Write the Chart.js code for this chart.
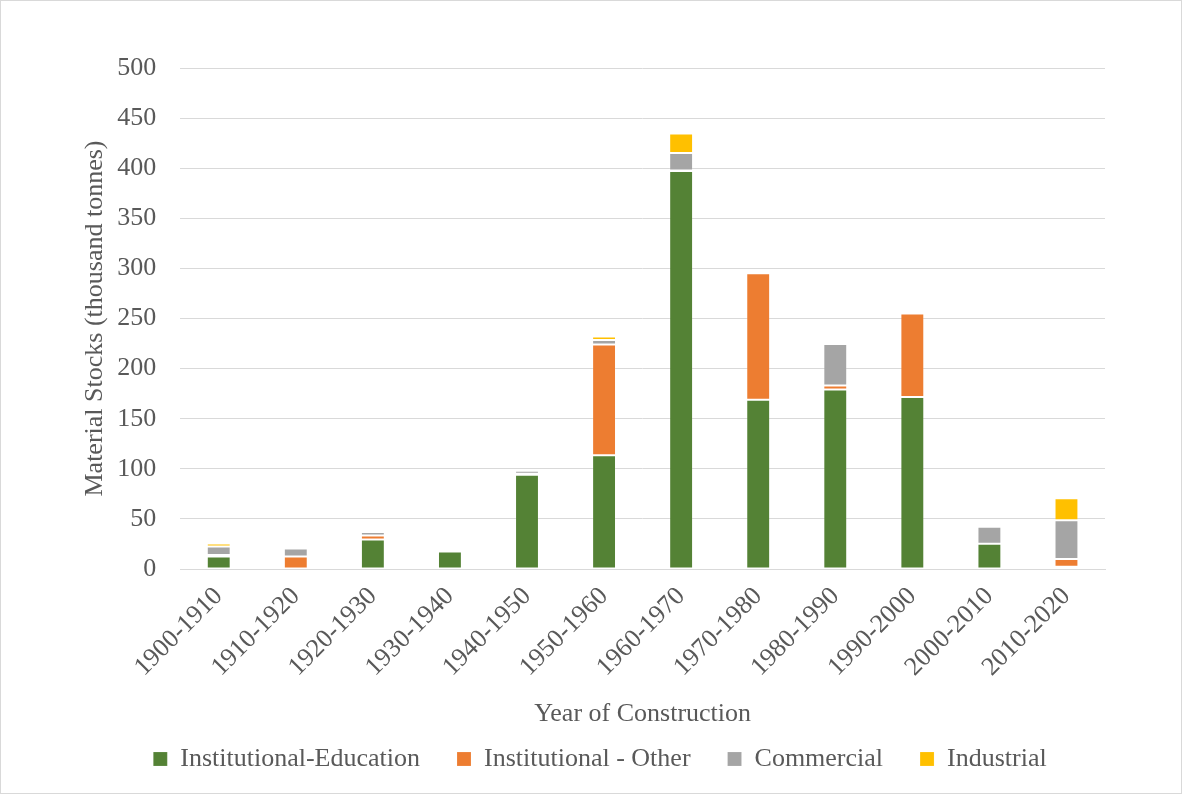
<!DOCTYPE html>
<html>
<head>
<meta charset="utf-8">
<title>Material Stocks by Year of Construction</title>
<script src="https://cdn.jsdelivr.net/npm/chart.js@4"></script>
<style>
  html, body { margin: 0; padding: 0; background: #fff; }
  #wrap { width: 1180px; height: 792px; border: 1px solid #d9d9d9; }
</style>
</head>
<body>
<div id="wrap"><canvas id="stockChart" width="1180" height="792"></canvas></div>
<script>
// decades of construction
const decades = ['1900-1910', '1910-1920', '1920-1930', '1930-1940', '1940-1950', '1950-1960',
  '1960-1970', '1970-1980', '1980-1990', '1990-2000', '2000-2010', '2010-2020'];

// material stocks, thousand tonnes
const education  = [12.5, 0, 29.5, 17.5, 94, 113.7, 397.3, 169, 179.3, 171.7, 25.3, 2.3];
const instOther  = [1.5, 12.5, 4, 1, 1, 110.3, 0.5, 126.3, 4, 83.3, 0, 7.7];
const commercial = [8.5, 8, 3.5, 1.5, 3, 4.5, 17.5, 0.3, 41.4, 2, 17, 38.7];
const industrial = [3, 0.8, 1, 0.5, 1, 3.5, 19.4, 0.7, 0.3, 0, 0.5, 22];

const yTicks = [0, 50, 100, 150, 200, 250, 300, 350, 400, 450, 500];

const serif = "'Liberation Serif', 'Times New Roman', serif";
const grey = '#595959';
const font = { family: serif, size: 26 };

function series(label, data, color) {
  return {
    label: label,
    data: data,
    backgroundColor: color,
    borderColor: 'rgba(255,255,255,0.15)',
    borderWidth: 1,
    borderSkipped: false
  };
}

// the legend keeps wide gaps between items but less room above them,
// so shrink its box when it is fitted and stretch its top back up before drawing
const LEGEND_TRIM = 28;
const LEGEND_LIFT = 25;
const LEGEND_SHIFT_X = 19;
const legendTrim = {
  id: 'legendTrim',
  beforeLayout(chart) {
    const lg = chart.legend;
    if (!lg || lg._trimmed) return;
    const fit = lg.fit;
    lg.fit = function () {
      fit.call(this);
      this.height -= LEGEND_TRIM;
    };
    lg._trimmed = true;
  },
  afterLayout(chart) {
    const lg = chart.legend;
    if (!lg) return;
    lg.top -= LEGEND_LIFT;
    lg.left += LEGEND_SHIFT_X;
    lg.right += LEGEND_SHIFT_X;
  }
};

const ctx = document.getElementById('stockChart');
new Chart(ctx, {
  type: 'bar',
  data: {
    labels: decades,
    datasets: [
      series('Institutional-Education', education, '#548235'),
      series('Institutional - Other', instOther, '#ED7D31'),
      series('Commercial', commercial, '#A5A5A5'),
      series('Industrial', industrial, '#FFC000')
    ]
  },
  plugins: [legendTrim],
  options: {
    responsive: false,
    animation: false,
    layout: { padding: { top: 67, right: 76, left: 56, bottom: 14 } },
    datasets: { bar: { categoryPercentage: 1, barPercentage: 0.31 } },
    scales: {
      x: {
        stacked: true,
        grid: { display: false },
        border: { color: '#d9d9d9', width: 1 },
        ticks: {
          color: grey,
          font: font,
          minRotation: 45,
          maxRotation: 45,
          padding: 4
        },
        title: {
          display: true,
          text: 'Year of Construction',
          color: grey,
          font: font,
          padding: { top: 12, bottom: 4 }
        }
      },
      y: {
        stacked: true,
        min: 0,
        max: 500,
        afterBuildTicks: axis => { axis.ticks = yTicks.map(v => ({ value: v })); },
        grid: { color: '#d9d9d9', lineWidth: 1, drawTicks: false },
        border: { display: false },
        ticks: {
          color: grey,
          font: font,
          padding: 24
        },
        title: {
          display: true,
          text: 'Material Stocks (thousand tonnes)',
          color: grey,
          font: font,
          padding: { top: 23, bottom: -18 }
        }
      }
    },
    plugins: {
      legend: {
        position: 'bottom',
        labels: {
          color: grey,
          font: font,
          boxWidth: 14,
          boxHeight: 14,
          padding: 37
        }
      },
      tooltip: { enabled: false }
    }
  }
});
</script>
</body>
</html>
